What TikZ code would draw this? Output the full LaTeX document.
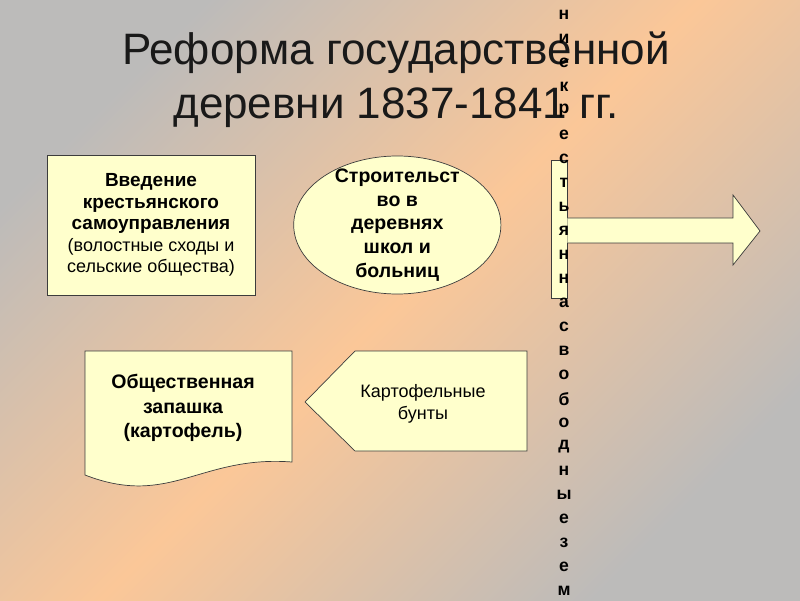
\documentclass[tikz,border=0pt]{standalone}
\usepackage{fontspec}
\setmainfont{Liberation Sans}
\definecolor{SlideGrey}{RGB}{188,187,186}
\definecolor{SlidePeach}{RGB}{251,199,152}
\definecolor{NoteYellow}{RGB}{255,255,204}
\definecolor{EdgeGrey}{RGB}{60,60,60}
\usepackage{tikz}
\usetikzlibrary{positioning,shapes.geometric,calc}

\begin{document}
\begin{tikzpicture}[
      every node/.style={font=\fontsize{12.8}{15.4}\selectfont, align=center, text=black},
      note/.style={draw=EdgeGrey, fill=NoteYellow, line width=0.5pt},
      block/.style={note, rectangle, minimum width=52mm, minimum height=35mm, inner sep=2pt},
      oval/.style={note, ellipse, minimum width=51.8mm, minimum height=34.5mm, inner sep=0pt},
      title/.style={font=\fontsize{31.3}{38.6}\selectfont, text=black!90},
      bold/.style={font=\fontsize{13.9}{16.8}\bfseries\selectfont},
      letter/.style={font=\fontsize{12.5}{12.5}\bfseries\selectfont, inner sep=0pt}
  ]
    \shade[top color=SlideGrey, bottom color=SlideGrey, middle color=SlidePeach, shading angle=45]
      (0,0) rectangle (20,15);
    \useasboundingbox (0,0) rectangle (20,15);
    \node[title] (title) at (9.9,13.0) {Реформа государственной\\деревни 1837-1841 гг.};
    \node[block] (selfgov) at (3.775,9.375) {{\fontsize{13.5}{15.4}\bfseries\selectfont Введение}\\{\fontsize{13.5}{15.4}\bfseries\selectfont крестьянского}\\{\fontsize{13.5}{15.4}\bfseries\selectfont самоуправления}\\(волостные сходы и\\сельские общества)};
    \node[oval, right=9.5mm of selfgov] (school) {};
    \node[bold] (schooltext) at (school) {Строительст\\во в\\деревнях\\школ и\\больниц};
    \node[note, minimum width=4mm, minimum height=34.5mm, inner sep=0pt] (bar) at (13.975,9.275) {};
    \draw[note] (bar.east |- 0,9.55) -- (18.325,9.55) -- (18.325,10.125) -- (19,9.225)
      -- (18.325,8.375) -- (18.325,8.925) -- (bar.east |- 0,8.925);
    \draw[note] (2.125,6.225) -- (7.3,6.225) -- (7.3,3.45)
      .. controls (5.0,3.625) and (4.25,2.3) .. (2.125,3.125) -- cycle;
    \node[bold, font=\fontsize{13.9}{17.4}\bfseries\selectfont] (plough) at (4.575,4.8) {Общественная\\запашка\\(картофель)};
    \draw[note] (7.625,4.95) -- (8.875,6.225) -- (13.175,6.225) -- (13.175,3.725) -- (8.875,3.725) -- cycle;
    \node[font=\fontsize{12.8}{15.6}\selectfont] (riots) at (10.575,4.9) {Картофельные\\бунты};
    \foreach \ch [count=\i] in {н,и,е,к,р,е,с,т,ь,я,н,н,а,с,в,о,б,о,д,н,ы,е,з,е,м}
      \node[letter] (ch\i) at (14.1,{14.625-0.6*(\i-1)}) {\ch};
  \end{tikzpicture}
\end{document}
